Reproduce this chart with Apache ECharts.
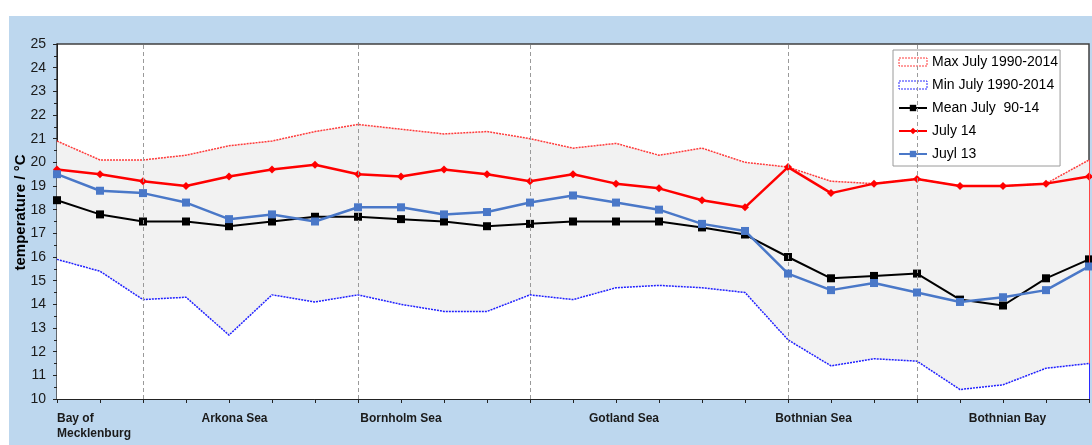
<!DOCTYPE html>
<html>
<head>
<meta charset="utf-8">
<script src="https://cdn.jsdelivr.net/npm/echarts@6/dist/echarts.min.js"></script>
<style>
  html, body { margin: 0; padding: 0; background: #ffffff; }
  #frame { position: absolute; left: 9px; top: 16px; right: 0; bottom: 0; background: #BDD7EE; }
  #chart { position: absolute; left: 0; top: 0; width: 1092px; height: 445px; }
</style>
</head>
<body>
<div id="frame"></div>
<div id="chart"></div>
<script>
// Stations along the Baltic transect (labels only on a few of them)
const categories = [
  'Bay of\nMecklenburg', '', '', '', 'Arkona Sea', '', '', '', 'Bornholm Sea', '', '', '', '',
  'Gotland Sea', '', '', '', '', 'Bothnian Sea', '', '', '', 'Bothnian Bay', '', ''
];

// Surface temperature, °C
const maxJuly = [20.9, 20.1, 20.1, 20.3, 20.7, 20.9, 21.3, 21.6, 21.4, 21.2, 21.3, 21.0, 20.6,
  20.8, 20.3, 20.6, 20.0, 19.8, 19.2, 19.1, 19.3, 19.0, 19.0, 19.1, 20.1];
const minJuly = [15.9, 15.4, 14.2, 14.3, 12.7, 14.4, 14.1, 14.4, 14.0, 13.7, 13.7, 14.4, 14.2,
  14.7, 14.8, 14.7, 14.5, 12.5, 11.4, 11.7, 11.6, 10.4, 10.6, 11.3, 11.5];
const meanJuly = [18.4, 17.8, 17.5, 17.5, 17.3, 17.5, 17.7, 17.7, 17.6, 17.5, 17.3, 17.4, 17.5,
  17.5, 17.5, 17.25, 16.95, 16.0, 15.1, 15.2, 15.3, 14.2, 13.95, 15.1, 15.9];
const july14 = [19.7, 19.5, 19.2, 19.0, 19.4, 19.7, 19.9, 19.5, 19.4, 19.7, 19.5, 19.2, 19.5,
  19.1, 18.9, 18.4, 18.1, 19.8, 18.7, 19.1, 19.3, 19.0, 19.0, 19.1, 19.4];
const july13 = [19.5, 18.8, 18.7, 18.3, 17.6, 17.8, 17.5, 18.1, 18.1, 17.8, 17.9, 18.3, 18.6,
  18.3, 18.0, 17.4, 17.1, 15.3, 14.6, 14.9, 14.5, 14.1, 14.3, 14.6, 15.6];

// Basin boundaries (category indices)
const basinBreaks = [2, 7, 11, 17, 20];

const yTicks = { min: 10, max: 25, interval: 1 };

const font = "'Liberation Sans', Arial, sans-serif";
const last = categories.length - 1;

// Small horizontal nudges for a few station labels
const labelPad = { 4: [0, 0, 0, 11], 13: [0, 0, 4, 16], 18: [0, 35, 0, 0], 22: [0, 0, 2, 9] };
const xData = categories.map((c, i) => {
  if (i === 0) return { value: c, textStyle: { align: 'left' } };
  if (labelPad[i]) return { value: c, textStyle: { padding: labelPad[i] } };
  return c;
});

const chart = echarts.init(document.getElementById('chart'), null, { renderer: 'canvas' });

chart.setOption({
  animation: false,
  textStyle: { fontFamily: font },
  grid: {
    left: 57, right: 3, top: 44, bottom: 46,
    containLabel: false, outerBoundsMode: 'none',
    show: true, backgroundColor: '#ffffff', borderColor: '#404040', borderWidth: 1.5
  },
  legend: {
    orient: 'vertical',
    left: 893, top: 50,
    padding: [5, 2, 5, 5],
    itemWidth: 28, itemHeight: 8, itemGap: 9,
    backgroundColor: '#ffffff', borderColor: '#9a9a9a', borderWidth: 1,
    textStyle: { fontSize: 14, color: '#000', fontFamily: font },
    data: [
      { name: 'Max July 1990-2014', icon: 'rect',
        itemStyle: { color: '#ffffff', borderColor: '#ff3b3b', borderWidth: 1, borderType: [2, 1] } },
      { name: 'Min July 1990-2014', icon: 'rect',
        itemStyle: { color: '#ffffff', borderColor: '#2a2aff', borderWidth: 1, borderType: [2, 1] } },
      { name: 'Mean July  90-14' },
      { name: 'July 14' },
      { name: 'Juyl 13' }
    ]
  },
  xAxis: {
    type: 'category',
    data: xData,
    boundaryGap: false,
    axisLine: { lineStyle: { color: '#222', width: 1 } },
    axisTick: { show: true, interval: 0, length: 4, lineStyle: { color: '#222' } },
    axisLabel: {
      interval: 0, margin: 12, fontSize: 12, fontWeight: 'bold', color: '#1a1a1a',
      lineHeight: 15, fontFamily: font
    },
    splitLine: { show: false }
  },
  yAxis: {
    type: 'value',
    min: yTicks.min, max: yTicks.max, interval: yTicks.interval,
    name: 'temperature / °C',
    nameLocation: 'middle',
    nameGap: 29,
    nameMoveOverlap: false,
    nameTextStyle: { fontSize: 15, fontWeight: 'bold', color: '#000', padding: [0, 0, 0, 18], fontFamily: font },
    axisLine: { show: true, lineStyle: { color: '#222', width: 1 } },
    axisTick: { show: true, length: 4, lineStyle: { color: '#222' } },
    minorTick: { show: true, splitNumber: 2, length: 3, lineStyle: { color: '#222' } },
    axisLabel: { fontSize: 14, color: '#1a1a1a', margin: 11, fontFamily: font },
    splitLine: { show: false }
  },
  series: [
    {
      name: 'Max July 1990-2014', type: 'line', data: maxJuly, z: 1,
      symbol: 'none', silent: true,
      lineStyle: { color: '#ff3b3b', width: 1.5, type: [2, 1] },
      itemStyle: { color: '#ff3b3b' },
      areaStyle: { color: '#f2f2f2', opacity: 1, origin: 'start' }
    },
    {
      name: 'Min July 1990-2014', type: 'line', data: minJuly, z: 2,
      symbol: 'none', silent: true,
      lineStyle: { color: '#2020ff', width: 1.5, type: [2, 1] },
      itemStyle: { color: '#2020ff' },
      areaStyle: { color: '#ffffff', opacity: 1, origin: 'start' }
    },
    {
      name: 'Mean July  90-14', type: 'line', data: meanJuly, z: 3,
      symbol: 'rect', symbolSize: 8,
      lineStyle: { color: '#000', width: 2 },
      itemStyle: { color: '#000' },
      markLine: {
        silent: true, symbol: 'none', label: { show: false },
        data: basinBreaks.map(i => ({
          xAxis: i, lineStyle: { color: '#9a9a9a', type: [4, 3], width: 1 }
        })).concat([
          [ { coord: [last, maxJuly[last]], lineStyle: { color: '#ff4545', width: 1, type: 'solid' } },
            { coord: [last, yTicks.min] } ],
          [ { coord: [last, minJuly[last]], lineStyle: { color: '#2a2aff', width: 1, type: 'solid' } },
            { coord: [last, yTicks.min] } ]
        ])
      }
    },
    {
      name: 'July 14', type: 'line', data: july14, z: 4,
      symbol: 'diamond', symbolSize: 8,
      lineStyle: { color: '#ff0000', width: 2.5 },
      itemStyle: { color: '#ff0000' }
    },
    {
      name: 'Juyl 13', type: 'line', data: july13, z: 5,
      symbol: 'rect', symbolSize: 8,
      lineStyle: { color: '#4a78c8', width: 2.5 },
      itemStyle: { color: '#4a78c8' }
    }
  ]
});
</script>
</body>
</html>
